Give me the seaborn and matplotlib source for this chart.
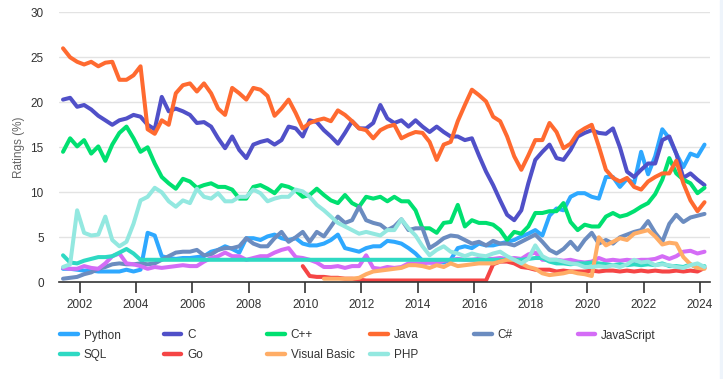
import numpy as np
import pandas as pd
import matplotlib
matplotlib.use("Agg")
import matplotlib.pyplot as plt
import matplotlib.dates as mdates
from matplotlib.lines import Line2D
from matplotlib.patches import Rectangle
import seaborn as sns

# -----------------------------
# Data (quarterly readings, Jun 2001 .. Mar 2024)
# -----------------------------
dates = pd.date_range("2001-06-01", periods=92, freq="QS-MAR")

languages = ["Python", "C", "C++", "Java", "C#", "JavaScript",
             "SQL", "Go", "Visual Basic", "PHP"]
colors = ["#2ea8ff", "#5050c8", "#00e070", "#ff6a30", "#6b8cc0",
          "#d46cf6", "#2ed9c3", "#f54545", "#ffad66", "#93e8e0"]

python = [1.5, 1.5,
          1.4, 1.3, 1.3, 1.2,  1.2, 1.2, 1.2, 1.4,  1.2, 1.4, 5.5, 5.2,
          2.9, 2.7, 2.6, 2.7,  2.7, 2.8, 2.9, 3.4,  3.6, 4.0, 3.7, 3.3,
          4.9, 4.9, 4.7, 5.1,  5.3, 4.9, 4.7, 4.9,  4.3, 4.1, 4.1, 4.3,
          4.7, 5.3, 3.8, 3.6,  3.4, 3.8, 4.0, 4.0,  4.6, 4.5, 4.3, 3.8,
          3.2, 2.4, 2.2, 2.3,  2.2, 2.5, 3.8, 4.0,  3.8, 4.3, 4.1, 4.1,
          4.3, 4.5, 4.7, 5.1,  5.4, 5.8, 5.2, 7.4,  8.2, 8.0, 9.5, 9.9,
          9.9, 9.5, 9.3, 11.7, 11.7, 10.6, 11.5, 11.0, 14.5, 12.0, 14.0, 17.0,
          16.0, 14.3, 12.8, 14.3, 14.0, 15.3]

c_lang = [20.3, 20.5,
          19.5, 19.7, 19.2, 18.5,  18.0, 17.5, 18.0, 18.2,  18.6, 18.4, 17.5, 17.0,
          20.6, 19.0, 19.3, 19.0,  18.6, 17.7, 17.8, 17.3,  16.0, 14.9, 16.2, 14.7,
          13.8, 15.3, 15.6, 15.8,  15.3, 15.8, 17.3, 17.1,  16.2, 18.0, 17.8, 16.9,
          16.2, 15.4, 16.6, 17.9,  17.1, 17.1, 17.7, 19.7,  18.2, 17.7, 18.0, 17.3,
          18.0, 17.3, 16.7, 17.3,  16.7, 16.2, 16.2, 15.8,  16.0, 14.1, 12.3, 10.8,
          9.1, 7.5, 6.9, 8.0,  11.0, 13.6, 14.5, 15.3,  13.8, 13.6, 14.7, 16.2,
          16.6, 16.9, 16.6, 16.5,  17.1, 15.0, 12.3, 11.7,  12.5, 13.2, 13.2, 15.8,
          16.2, 14.3, 11.6, 12.1,  11.4, 10.8]

cpp = [14.5, 16.0,
       15.1, 15.8, 14.3, 15.1,  13.5, 15.3, 16.6, 17.3,  16.0, 14.5, 15.0, 13.2,
       11.7, 11.0, 10.4, 11.5,  11.2, 10.5, 10.8, 11.0,  10.6, 10.6, 10.3, 9.3,
       9.3, 10.6, 10.8, 10.4,  9.9, 10.8, 10.6, 10.2,  9.5, 9.7, 10.4, 9.7,
       9.1, 8.8, 9.7, 8.8,  8.4, 9.5, 9.3, 9.5,  9.0, 9.5, 9.0, 9.0,
       8.0, 6.0, 6.0, 5.5,  6.6, 6.7, 8.6, 6.2,  6.9, 6.6, 6.6, 6.4,
       5.8, 4.7, 5.6, 5.4,  6.2, 7.7, 7.7, 7.9,  7.9, 8.8, 6.7, 5.8,
       6.4, 6.2, 6.2, 7.3,  7.7, 7.3, 7.5, 7.9,  8.4, 8.8, 9.8, 11.4,
       13.8, 12.1, 11.4, 11.0,  9.9, 10.5]

java = [26.0, 25.0,
        24.5, 24.2, 24.5, 24.0,  24.4, 24.5, 22.5, 22.5,  23.0, 24.0, 17.0, 16.5,
        18.0, 17.5, 21.0, 21.9,  22.1, 21.2, 22.1, 21.0,  19.3, 18.6, 21.6, 21.0,
        20.3, 21.6, 21.4, 20.7,  18.5, 19.3, 20.3, 18.8,  17.1, 17.7, 18.0, 18.2,
        17.9, 19.1, 18.6, 17.9,  17.1, 16.9, 16.0, 16.9,  17.3, 17.5, 16.0, 16.4,
        16.7, 16.6, 15.6, 13.6,  15.3, 15.6, 17.9, 19.7,  21.4, 20.8, 20.1, 18.4,
        17.9, 16.2, 14.0, 12.5,  14.1, 15.8, 15.8, 17.7,  16.7, 14.9, 15.4, 16.6,
        17.1, 17.5, 15.1, 12.5,  11.6, 11.2, 11.6, 10.6,  10.3, 11.2, 11.7, 12.1,
        12.1, 13.5, 11.0, 9.1,  7.9, 8.9]

csharp = [0.4, 0.5,
          0.6, 0.9, 1.1, 1.5,  1.7, 2.0, 2.1, 2.0,  2.0, 2.1, 2.0, 2.1,
          2.5, 2.9, 3.3, 3.4,  3.4, 3.6, 3.0, 3.1,  3.6, 3.8, 3.8, 4.0,
          4.9, 4.3, 4.0, 4.0,  4.9, 5.6, 4.5, 5.0,  5.6, 4.5, 5.6, 5.1,
          6.2, 7.3, 6.6, 6.9,  8.4, 6.9, 6.6, 6.4,  5.8, 6.2, 7.0, 5.8,
          6.0, 6.0, 3.8, 4.3,  4.9, 5.2, 5.1, 4.7,  4.3, 4.5, 4.1, 4.6,
          4.3, 4.3, 4.1, 4.5,  4.9, 5.3, 4.5, 3.6,  3.2, 3.7, 4.5, 3.6,
          4.7, 5.5, 4.3, 4.7,  4.3, 5.0, 5.3, 5.6,  5.8, 6.8, 5.5, 4.5,
          6.5, 7.5, 6.7, 7.2,  7.4, 7.6]

javascript = [1.6, 1.5,
              1.5, 1.8, 1.6, 1.5,  2.1, 2.9, 3.2, 2.1,  2.0, 1.8, 1.5, 1.7,
              1.6, 1.7, 1.8, 1.9,  1.8, 1.8, 2.3, 2.7,  2.9, 3.3, 2.9, 2.9,
              2.5, 2.7, 2.9, 2.9,  3.3, 3.6, 3.8, 2.8,  2.7, 2.5, 2.2, 1.7,
              1.7, 1.8, 1.6, 1.8,  1.8, 3.0, 1.6, 1.5,  1.7, 1.6, 1.7, 2.1,
              2.1, 2.1, 2.2, 2.1,  2.4, 2.5, 2.6, 2.5,  2.5, 2.6, 2.6, 2.6,
              2.7, 2.6, 2.7, 2.6,  3.1, 3.3, 2.5, 2.5,  2.5, 2.4, 2.5, 2.3,
              2.2, 2.3, 2.7, 2.4,  2.5, 2.4, 2.5, 2.4,  2.5, 2.5, 2.6, 2.9,
              2.6, 2.9, 3.4, 3.5,  3.2, 3.4]

sql = [3.0, 2.2,
       2.1, 2.4, 2.6, 2.8,  2.8, 2.9, 3.3, 3.7,  3.2, 2.5, 2.5, 2.5,
       2.5, 2.5, 2.5, 2.5,  2.5, 2.5, 2.5, 2.5,  2.5, 2.5, 2.5, 2.5,
       2.5, 2.5, 2.5, 2.5,  2.5, 2.5, 2.5, 2.5,  2.5, 2.5, 2.5, 2.5,
       2.5, 2.5, 2.5, 2.5,  2.5, 2.5, 2.5, 2.5,  2.5, 2.5, 2.5, 2.5,
       2.5, 2.5, 2.5, 2.5,  2.5, 2.5, 2.5, 2.5,  2.5, 2.5, 2.5, 2.5,
       2.5, 2.5, 2.5, 2.5,  2.6, 2.7, 2.7, 2.3,  2.1, 2.1, 2.0, 2.1,
       2.1, 2.2, 2.1, 2.0,  1.9, 2.0, 1.9, 2.0,  1.9, 2.0, 1.9, 2.1,
       1.8, 1.8, 1.7, 2.0,  1.6, 1.8]

go = [None, None,
      None, None, None, None,  None, None, None, None,  None, None, None, None,
      None, None, None, None,  None, None, None, None,  None, None, None, None,
      None, None, None, None,  None, None, None, None,  1.8, 0.7, 0.6, 0.6,
      0.5, 0.5, 0.4, 0.4,  0.3, 0.2, 0.2, 0.2,  0.2, 0.2, 0.2, 0.2,
      0.2, 0.2, 0.2, 0.2,  0.2, 0.2, 0.2, 0.2,  0.2, 0.2, 0.2, 2.0,
      2.3, 2.3, 2.1, 1.7,  1.6, 1.4, 1.4, 1.4,  1.2, 1.3, 1.2, 1.2,
      1.2, 1.3, 1.2, 1.3,  1.3, 1.2, 1.3, 1.2,  1.3, 1.2, 1.3, 1.2,
      1.2, 1.3, 1.2, 1.3,  1.2, 1.6]

visual_basic = [None, None,
                None, None, None, None,  None, None, None, None,  None, None, None, None,
                None, None, None, None,  None, None, None, None,  None, None, None, None,
                None, None, None, None,  None, None, None, None,  None, None, None, 0.4,
                0.4, 0.4, 0.4, 0.4,  0.5, 0.9, 1.2, 1.3,  1.4, 1.5, 1.6, 1.9,
                1.9, 1.8, 1.6, 1.9,  1.7, 2.1, 1.8, 1.9,  2.0, 2.1, 2.1, 2.1,
                2.3, 2.5, 2.5, 2.1,  1.7, 1.5, 1.0, 0.8,  0.9, 1.0, 1.2, 1.0,
                0.9, 0.7, 5.0, 4.1,  4.5, 4.9, 4.7, 5.4,  5.6, 5.8, 5.1, 4.2,
                4.4, 4.3, 2.8, 2.0,  1.6, 1.5]

php = [1.7, 2.0,
       8.0, 5.5, 5.2, 5.3,  7.3, 4.7, 4.0, 4.5,  6.5, 9.1, 9.5, 10.5,
       10.0, 9.0, 8.4, 9.1,  8.8, 10.4, 9.5, 9.3,  9.9, 9.0, 9.0, 9.5,
       9.5, 10.3, 9.9, 9.0,  9.3, 9.5, 9.5, 10.3,  10.1, 9.5, 8.6, 8.0,
       7.3, 6.6, 6.2, 5.8,  5.4, 5.6, 5.4, 5.2,  5.8, 5.8, 7.0, 6.0,
       5.2, 4.0, 3.0, 3.6,  4.0, 3.4, 3.2, 2.9,  3.2, 3.0, 2.9, 3.2,
       3.4, 2.9, 2.5, 2.1,  2.6, 4.1, 2.9, 2.5,  2.5, 2.3, 2.1, 2.0,
       1.7, 1.7, 1.8, 1.7,  1.9, 1.7, 2.0, 2.5,  2.2, 2.3, 1.9, 2.0,
       1.9, 1.7, 1.6, 1.9,  2.1, 1.7]

series = [python, c_lang, cpp, java, csharp, javascript, sql, go, visual_basic, php]

wide = pd.DataFrame({"date": dates})
for name, vals in zip(languages, series):
    wide[name] = np.array(vals, dtype=float)
df = wide.melt(id_vars="date", var_name="language", value_name="rating").dropna()

# -----------------------------
# Plot
# -----------------------------
sns.set_style("white")
plt.rcParams["font.family"] = ["Liberation Sans", "DejaVu Sans"]

fig = plt.figure(figsize=(7.23, 3.79), dpi=100)
fig.patches.append(Rectangle((720 / 723, 0), 3 / 723, 1, transform=fig.transFigure,
                             color="#eef4fb", zorder=0))
ax = fig.add_axes([59 / 723, 1 - 282.3 / 379, 651 / 723, 270 / 379])

sns.lineplot(data=df, x="date", y="rating", hue="language", hue_order=languages,
             palette=colors, linewidth=2.9, legend=False, estimator=None,
             solid_capstyle="round", solid_joinstyle="round", ax=ax)

ax.set_ylim(0, 30)
ax.set_xlim(pd.Timestamp("2001-04-10"), pd.Timestamp("2024-05-11"))
ax.set_yticks(range(0, 31, 5))
ax.yaxis.grid(True, color="#e3e3e3", linewidth=1)
ax.set_axisbelow(True)
for side in ["top", "right", "left"]:
    ax.spines[side].set_visible(False)
ax.spines["bottom"].set_color("#333333")
ax.spines["bottom"].set_linewidth(1.2)

ax.xaxis.set_major_locator(mdates.YearLocator(2))
ax.xaxis.set_major_formatter(mdates.DateFormatter("%Y"))
ax.tick_params(axis="x", length=8, width=1.2, color="#333333", labelsize=8.5,
               labelcolor="#333333", pad=4, direction="out", bottom=True)
ax.tick_params(axis="y", length=0, labelsize=8.5, labelcolor="#333333", pad=11)
ax.set_xlabel("")
ax.set_ylabel("Ratings (%)", fontsize=8.5, color="#666666")
ax.yaxis.set_label_coords(-0.052, 0.5)

# legend laid out in fixed-width columns, two rows
col_x = [60, 163.5, 267, 370.5, 474, 577.5]
columns = [[0, 6], [1, 7], [2, 8], [3, 9], [4], [5]]
for x0, idxs in zip(col_x, columns):
    handles = [Line2D([0], [0], color=colors[i], lw=3.2, solid_capstyle="round")
               for i in idxs]
    labels = [languages[i] for i in idxs]
    fig.legend(handles, labels, loc="upper left",
               bbox_to_anchor=(x0 / 723, 1 - 329.5 / 379), frameon=False,
               fontsize=8.5, handlelength=1.5, handletextpad=0.5,
               labelspacing=0.62, borderpad=0, borderaxespad=0,
               labelcolor="#333333")

fig.savefig("out.png", dpi=100)
